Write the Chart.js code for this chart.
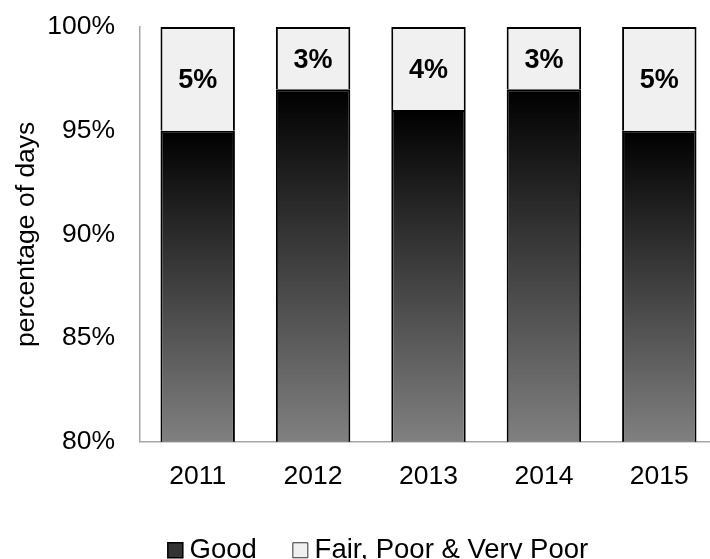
<!DOCTYPE html>
<html>
<head>
<meta charset="utf-8">
<title>Air quality days</title>
<script src="https://cdn.jsdelivr.net/npm/chart.js@4/dist/chart.umd.min.js"></script>
<style>
  html, body { margin: 0; padding: 0; background: #fff; overflow: hidden; }
  #wrap { width: 710px; height: 559px; overflow: hidden; position: relative; }
  #wrap canvas { position: absolute; left: 0; top: 0; }
</style>
</head>
<body>
<div id="wrap"><canvas id="chart" width="717" height="592"></canvas></div>
<script>
const YEARS = ['2011', '2012', '2013', '2014', '2015'];
const GOOD = [95, 97, 96, 97, 95];
const FAIR_POOR = [5, 3, 4, 3, 5];
const SERIES_NAMES = ['Good', 'Fair, Poor & Very Poor'];
const Y_TICKS = [80, 85, 90, 95, 100];

const FONT = '"Liberation Sans", Arial, Helvetica, sans-serif';
Chart.defaults.font.family = FONT;
Chart.defaults.color = '#000';

// dark bars fade from black at their top to mid grey at the axis
function goodFill(c) {
    const chart = c.chart;
    const area = chart.chartArea;
    if (!area || c.dataIndex === undefined) return '#333';
    const top = chart.scales.y.getPixelForValue(GOOD[c.dataIndex]);
    const g = chart.ctx.createLinearGradient(0, top, 0, area.bottom);
    g.addColorStop(0, '#000');
    g.addColorStop(1, '#808080');
    return g;
}

// percentage written in the middle of every segment
const barLabels = {
    id: 'barLabels',
    afterDatasetsDraw(chart) {
        const ctx = chart.ctx;
        ctx.save();
        ctx.font = 'bold 27px ' + FONT;
        ctx.textAlign = 'center';
        ctx.textBaseline = 'middle';
        chart.data.datasets.forEach((ds, i) => {
            chart.getDatasetMeta(i).data.forEach((bar, j) => {
                const p = bar.getProps(['x', 'y', 'base'], true);
                ctx.fillStyle = ds.labelColor;
                ctx.fillText(ds.data[j] + '%', p.x, (p.y + p.base) / 2 + 2);
            });
        });
        ctx.restore();
    }
};

// move the legend row a bit right and up
const legendShift = {
    id: 'legendShift',
    afterLayout(chart) {
        const lg = chart.legend;
        if (!lg) return;
        lg.left += 23;
        lg.right += 23;
        lg.top -= 18;
        lg.bottom -= 18;
    }
};

new Chart(document.getElementById('chart'), {
    type: 'bar',
    data: {
        labels: YEARS,
        datasets: [
            {
                label: SERIES_NAMES[0],
                data: GOOD,
                backgroundColor: goodFill,
                borderColor: '#000',
                borderWidth: 2,
                borderSkipped: 'start',
                labelColor: '#fff'
            },
            {
                label: SERIES_NAMES[1],
                data: FAIR_POOR,
                backgroundColor: '#f0f0f0',
                borderColor: '#000',
                borderWidth: 2,
                borderSkipped: 'start',
                labelColor: '#000'
            }
        ]
    },
    options: {
        responsive: false,
        animation: false,
        datasets: { bar: { categoryPercentage: 1, barPercentage: 0.645 } },
        layout: { padding: { top: 27, left: 0, right: 0, bottom: 0 } },
        scales: {
            x: {
                stacked: true,
                grid: { display: false, drawTicks: false },
                border: { display: true, color: '#a6a6a6', width: 1.5 },
                ticks: { padding: 19, font: { size: 26.5 } }
            },
            y: {
                stacked: true,
                min: Y_TICKS[0],
                max: Y_TICKS[Y_TICKS.length - 1],
                grid: { display: false, drawTicks: false },
                border: { display: true, color: '#a6a6a6', width: 1.5 },
                ticks: {
                    stepSize: Y_TICKS[1] - Y_TICKS[0],
                    padding: 25,
                    font: { size: 26.5 },
                    callback: v => v + '%'
                },
                title: {
                    display: true,
                    text: 'percentage of days',
                    font: { size: 26.5 },
                    padding: { top: 11, bottom: 0 }
                },
                afterFit(scale) {
                    scale.width = 140;
                    scale.paddingTop = 0;
                    scale.paddingBottom = 0;
                }
            }
        },
        plugins: {
            tooltip: { enabled: false },
            legend: {
                position: 'bottom',
                labels: {
                    font: { size: 27.5 },
                    usePointStyle: true,
                    boxWidth: 1,
                    boxHeight: 15,
                    padding: 43,
                    generateLabels: () => [
                        { text: SERIES_NAMES[0], fillStyle: '#333', strokeStyle: '#000', lineWidth: 1.5, pointStyle: 'rect', datasetIndex: 0, hidden: false, fontColor: '#000' },
                        { text: SERIES_NAMES[1], fillStyle: '#f0f0f0', strokeStyle: '#333', lineWidth: 1, pointStyle: 'rect', datasetIndex: 1, hidden: false, fontColor: '#000' }
                    ]
                }
            }
        }
    },
    plugins: [barLabels, legendShift]
});
</script>
</body>
</html>
